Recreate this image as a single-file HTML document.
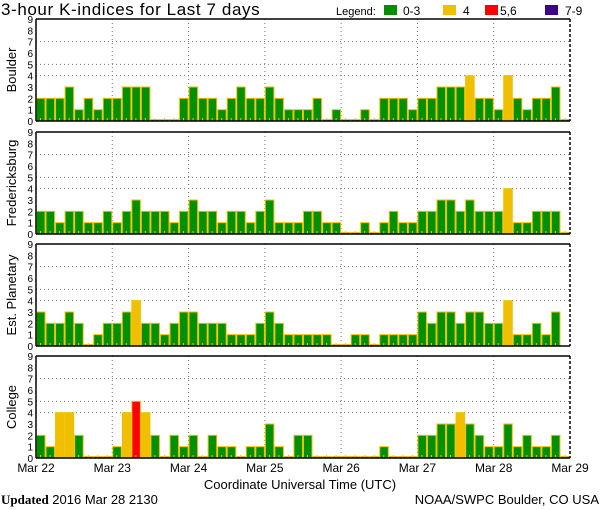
<!DOCTYPE html>
<html><head><meta charset="utf-8"><style>
body{margin:0;background:#fff;width:600px;height:510px;overflow:hidden}
svg{display:block;font-family:"Liberation Sans",sans-serif}
</style></head><body>
<svg id="c" width="600" height="510"></svg>
<script>
const days = ["Mar 22","Mar 23","Mar 24","Mar 25","Mar 26","Mar 27","Mar 28","Mar 29"];
const yTicks = [0,1,2,3,4,5,6,7,8,9];
const gridLevels = [4,5,7];
const stations = ["Boulder","Fredericksburg","Est. Planetary","College"];
const boulder = [2,2,2,3,1,2,1,2, 2,3,3,3,0,0,0,2, 3,2,2,1,2,3,2,2, 3,2,1,1,1,2,0,1, 0,0,1,0,2,2,2,1, 2,2,3,3,3,4,2,2, 1,4,2,1,2,2,3,0];
const fredericksburg = [2,2,1,2,2,1,1,2, 1,2,3,2,2,2,1,2, 3,2,2,1,2,2,1,2, 3,1,1,1,2,2,1,1, 0,0,1,0,1,2,1,1, 2,2,3,3,2,3,2,2, 2,4,1,1,2,2,2,0];
const planetary = [3,2,2,3,2,0,1,2, 2,3,4,2,2,1,2,3, 3,2,2,2,1,1,1,2, 3,2,1,1,1,1,1,0, 0,1,1,0,1,1,1,1, 3,2,3,3,2,3,3,2, 2,4,1,1,2,1,3,null];
const college = [2,1,4,4,2,0,0,0, 1,4,5,4,2,0,2,1, 2,0,2,1,1,0,1,1, 3,1,0,2,2,0,0,0, 0,0,0,0,1,0,0,0, 2,2,3,3,4,3,2,1, 1,3,1,2,1,1,2,0];
const series = [boulder,fredericksburg,planetary,college];

const NS="http://www.w3.org/2000/svg", svg=document.getElementById('c');
function mk(t,a,p){const e=document.createElementNS(NS,t);for(const k in a)e.setAttribute(k,a[k]);(p||svg).appendChild(e);return e;}
const X0=36,X1=570,panelTops=[19,132,244,356],PH=102;
const nBars=56;
function xs(i){return X0+(X1-X0)*i/nBars;}
function col(v){return v<=3?"#009000":v==4?"#f0c000":v<=6?"#ff0000":"#400090";}

let t=mk('text',{x:1,y:15,'font-size':17,'letter-spacing':'0.6'});t.textContent="3-hour K-indices for Last 7 days";

// legend
const lg=[["0-3","#009000",384,403],["4","#f0c000",443,463],["5,6","#ff0000",485,500],["7-9","#400090",545,565]];
t=mk('text',{x:336,y:15,'font-size':11});t.textContent="Legend:";

lg.forEach(l=>{const g=mk('g',{});


mk('rect',{x:l[2],y:5,width:13,height:10,fill:l[1]},g);
const tt=mk('text',{x:l[3],y:15,'font-size':12},g);tt.textContent=l[0];});

series.forEach((data,p)=>{
 const top=panelTops[p],bot=top+PH;
 const ys=v=>bot-PH*v/9;
 const g=mk('g',{});
 
 
 gridLevels.forEach(v=>mk('line',{x1:X0,x2:X1,y1:ys(v),y2:ys(v),stroke:"#777",'stroke-dasharray':"1,3"},g));
 for(let d=1;d<7;d++)mk('line',{x1:xs(d*8),x2:xs(d*8),y1:top,y2:bot,stroke:"#777",'stroke-dasharray':"1,3"},g);
 data.forEach((v,i)=>{
  if(v===null)return;
  const h=Math.max(PH*v/9,1.5);
  const r=mk('rect',{x:xs(i)+0.5,y:bot-h,width:(X1-X0)/nBars-1,height:h,fill:col(v),stroke:"#f0c000",'stroke-width':1},g);
  
  
  mk('rect',{x:xs(i)+4,y:bot-3,width:1,height:3,fill:"#f0c000"},g);
 });
 mk('line',{x1:X0,x2:X1,y1:top,y2:top,stroke:"#000",'stroke-width':1.5},g);
 mk('line',{x1:X0,x2:X1,y1:bot,y2:bot,stroke:"#000",'stroke-width':1.5},g);
 mk('line',{x1:X0,x2:X0,y1:top,y2:bot,stroke:"#000",'stroke-width':1.5},g);
 mk('line',{x1:X1,x2:X1,y1:top,y2:bot,stroke:"#000",'stroke-width':1.5,'stroke-dasharray':"3,2"},g);
 yTicks.forEach(v=>{const tt=mk('text',{x:33,y:ys(v)+4,'font-size':10,'text-anchor':'end'},g);tt.textContent=v;});
 const lab=mk('text',{x:0,y:0,'font-size':13,'text-anchor':'middle',transform:`translate(16,${top+PH/2}) rotate(-90)`},g);
 lab.textContent=stations[p];
 
 
});
days.forEach((d,i)=>{const tt=mk('text',{x:xs(i*8),y:472,'font-size':12,'text-anchor':'middle'});tt.textContent=d;
 });
t=mk('text',{x:300,y:489,'font-size':13,'text-anchor':'middle'});t.textContent="Coordinate Universal Time (UTC)";

t=mk('text',{x:1,y:504,'font-size':13});
t.innerHTML='<tspan font-weight="bold" font-family="Liberation Serif">Updated</tspan> 2016 Mar 28 2130';

t=mk('text',{x:599,y:504,'font-size':13,'text-anchor':'end'});t.textContent="NOAA/SWPC Boulder, CO USA";

</script>
</body></html>
